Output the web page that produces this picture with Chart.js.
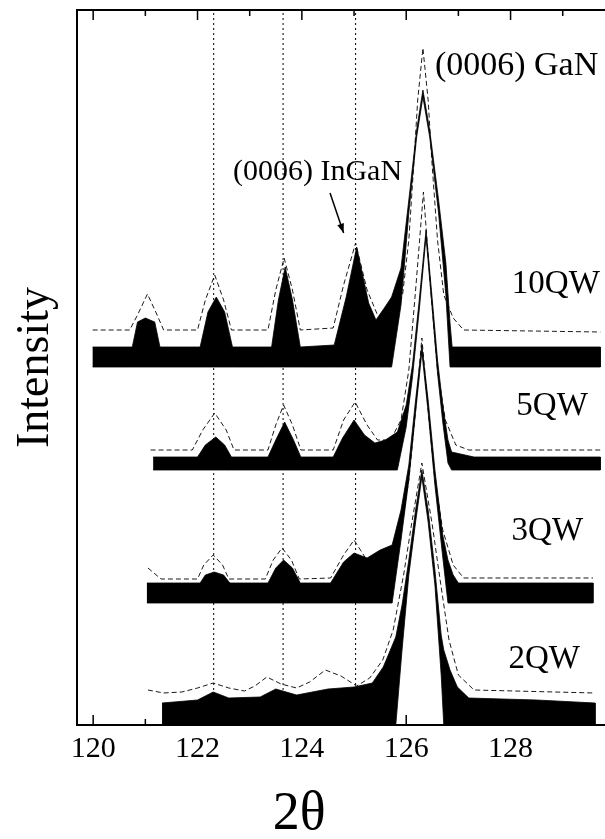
<!DOCTYPE html>
<html><head><meta charset="utf-8">
<script src="https://cdn.jsdelivr.net/npm/chart.js@4.4.0/dist/chart.umd.min.js"></script>
<style>html,body{margin:0;padding:0;background:#fff;}canvas{display:block;}</style>
</head><body>
<canvas id="c" width="605" height="839"></canvas>
<script>
// x-axis
const xTickLabels = [120, 122, 124, 126, 128];
const xMinorTicks = [120, 121, 122, 123, 124, 125, 126, 127, 128, 129];
// InGaN satellite reference positions (2theta)
const satelliteAngles = [122.31, 123.64, 125.03];

// 10QW measured (upper / lower envelope of noisy data, offset log intensity a.u.)
const qw10Angle = [119.99,120.75,120.85,121.0,121.18,121.28,122.05,122.2,122.36,122.52,122.67,123.42,123.55,123.68,123.82,123.97,124.62,124.85,125.05,125.28,125.42,125.58,125.72,125.9,126.05,126.2,126.32,126.45,126.62,126.76,126.84,126.88,129.72];
const qw10Upper = [378,378,403,407,403,378,378,413,428,413,378,378,425,458,425,378,380,428,478,422,405,417,428,457,525,595,635,595,525,462,402,378,378];
const qw10Lower = [358,358,358,358,358,358,358,358,358,358,358,358,358,358,358,358,358,358,358,358,358,358,358,420,512,588,628,588,512,430,358,358,358];
// 10QW simulation
const qw10SimAngle = [119.99,120.7,120.85,121.04,121.2,121.35,122.0,122.15,122.33,122.5,122.65,123.35,123.5,123.66,123.82,123.97,124.6,124.8,125.03,125.25,125.45,125.75,125.93,126.05,126.15,126.22,126.32,126.42,126.49,126.6,126.72,126.9,127.1,129.72];
const qw10Sim = [395,395,410,431,413,395,395,425,450,425,395,395,435,467,435,395,397,440,482,435,410,407,430,485,565,625,677,625,565,485,430,407,395,393];

// 5QW measured
const qw5Angle = [121.15,122.0,122.15,122.35,122.52,122.65,123.35,123.5,123.67,123.84,123.98,124.6,124.78,125.0,125.2,125.4,125.6,125.83,126.0,126.12,126.25,126.38,126.5,126.6,126.7,126.8,126.87,127.3,129.72];
const qw5Upper = [268,268,280,288,280,268,268,285,303,285,268,268,287,305,290,282,285,293,320,360,425,495,425,365,320,285,273,268,268];
const qw5Lower = [255,255,255,255,255,255,255,255,255,255,255,255,255,255,255,255,255,255,298,348,415,488,415,352,303,262,255,255,255];
// 5QW simulation
const qw5SimAngle = [121.1,121.9,122.1,122.33,122.55,122.7,123.35,123.5,123.65,123.82,123.98,124.6,124.8,125.02,125.25,125.45,125.7,125.9,126.05,126.18,126.33,126.47,126.6,126.75,126.95,127.2,129.72];
const qw5Sim = [275,275,295,312,295,275,275,300,320,300,275,275,305,323,300,285,285,305,355,435,533,435,355,305,280,275,275];

// 3QW measured
const qw3Angle = [121.03,122.05,122.15,122.32,122.5,122.62,123.35,123.5,123.65,123.82,123.97,124.55,124.8,125.0,125.25,125.5,125.73,125.9,126.05,126.18,126.3,126.42,126.55,126.7,126.8,126.9,127.0,129.58];
const qw3Upper = [142,142,150,153,150,142,142,157,165,157,142,142,163,172,167,175,180,215,260,325,380,325,255,190,165,150,142,142];
const qw3Lower = [122,122,122,122,122,122,122,122,122,122,122,122,122,122,122,122,122,185,245,313,373,313,240,168,122,122,122,122];
// 3QW simulation
const qw3SimAngle = [121.05,121.3,122.0,122.12,122.3,122.48,122.6,123.3,123.45,123.62,123.8,123.95,124.55,124.8,125.0,125.22,125.45,125.7,125.9,126.05,126.18,126.3,126.42,126.55,126.7,126.9,127.1,129.58];
const qw3Sim = [157,146,146,160,170,160,146,146,165,177,165,146,147,170,185,167,160,165,195,245,315,387,315,245,195,160,147,147];

// 2QW measured
const qw2Angle = [121.32,122.0,122.3,122.6,123.2,123.5,123.9,124.5,125.0,125.35,125.56,125.8,125.92,126.05,126.18,126.3,126.42,126.55,126.67,126.72,126.84,126.98,127.2,128.5,129.62];
const qw2Upper = [22,25,33,27,28,36,30,36,38,42,58,88,120,165,215,255,215,155,90,75,55,38,27,25,22];
const qw2Lower = [0,0,0,0,0,0,0,0,0,0,0,0,75,150,203,248,203,140,50,0,0,0,0,0,0];
// 2QW simulation
const qw2SimAngle = [121.05,121.35,121.7,122.0,122.3,122.6,122.9,123.1,123.33,123.6,123.9,124.15,124.45,124.75,125.05,125.3,125.55,125.75,125.95,126.1,126.3,126.5,126.65,126.82,127.0,127.3,129.62];
const qw2Sim = [35,32,33,37,42,37,34,39,48,41,37,43,55,49,39,47,65,95,150,200,262,200,145,85,50,35,32];

// text annotations
const sampleNames = ['10QW', '5QW', '3QW', '2QW'];
const sampleLabelAngle = [129.71, 129.48, 129.39, 129.33];
const sampleLabelLevel = [432, 310, 185, 57];
const peakNames = ['(0006) GaN', '(0006) InGaN'];
const peakLabelAngle = [126.55, 125.92];
const peakLabelLevel = [650, 545];
const arrowFrom = [124.54, 532];
const arrowTo = [124.80, 492];
const xTitle = '2θ';
const xTitleAngle = 123.95;

const FONT = 'Liberation Serif';

// closed outline of the noisy band: upper envelope forward, lower envelope back
function bandOutline(xs, up, lo) {
  const fwd = xs.map((x, i) => ({x: x, y: up[i]}));
  const back = xs.map((x, i) => ({x: x, y: lo[i]})).reverse();
  return fwd.concat(back);
}
function bandSet(name, xs, up, lo) {
  return {label: name, data: bandOutline(xs, up, lo), borderColor: '#000', borderWidth: 0.8, pointRadius: 0,
          fill: 'shape', backgroundColor: '#000', order: 1};
}
function simSet(name, xs, ys) {
  return {label: name + ' sim', data: xs.map((x, i) => ({x: x, y: ys[i]})), borderColor: '#000', borderWidth: 0.9,
          borderDash: [5, 3], pointRadius: 0, fill: false, order: 2};
}
const datasets = [
  bandSet('10QW', qw10Angle, qw10Upper, qw10Lower),
  bandSet('5QW', qw5Angle, qw5Upper, qw5Lower),
  bandSet('3QW', qw3Angle, qw3Upper, qw3Lower),
  bandSet('2QW', qw2Angle, qw2Upper, qw2Lower),
  simSet('10QW', qw10SimAngle, qw10Sim),
  simSet('5QW', qw5SimAngle, qw5Sim),
  simSet('3QW', qw3SimAngle, qw3Sim),
  simSet('2QW', qw2SimAngle, qw2Sim)
].concat(satelliteAngles.map(a => ({label: 'ref ' + a, data: [{x: a, y: 0}, {x: a, y: 715}], borderColor: '#000',
  borderWidth: 1, borderDash: [2, 3], pointRadius: 0, fill: false, order: 3})));

const inwardTicks = {
  id: 'inwardTicks',
  afterDraw(chart) {
    const {ctx, chartArea: a, scales: {x}} = chart;
    ctx.save();
    ctx.strokeStyle = '#000';
    ctx.lineWidth = 1.5;
    xMinorTicks.forEach(v => {
      const px = x.getPixelForValue(v);
      const L = (v % 2 === 0) ? 10 : 6;
      ctx.beginPath();
      ctx.moveTo(px, a.bottom); ctx.lineTo(px, a.bottom - L);
      ctx.moveTo(px, a.top); ctx.lineTo(px, a.top + L);
      ctx.stroke();
    });
    ctx.restore();
  }
};
const textLabels = {
  id: 'textLabels',
  afterDraw(chart) {
    const {ctx, scales: {x, y}} = chart;
    ctx.save();
    ctx.fillStyle = '#000';
    ctx.font = '33px "' + FONT + '"';
    ctx.textBaseline = 'alphabetic';
    ctx.textAlign = 'right';
    sampleNames.forEach((n, i) => ctx.fillText(n, x.getPixelForValue(sampleLabelAngle[i]), y.getPixelForValue(sampleLabelLevel[i])));
    ctx.font = '34px "' + FONT + '"';
    ctx.textAlign = 'left';
    ctx.fillText(peakNames[0], x.getPixelForValue(peakLabelAngle[0]), y.getPixelForValue(peakLabelLevel[0]));
    ctx.font = '30px "' + FONT + '"';
    ctx.textAlign = 'right';
    ctx.fillText(peakNames[1], x.getPixelForValue(peakLabelAngle[1]), y.getPixelForValue(peakLabelLevel[1]));
    const x0 = x.getPixelForValue(arrowFrom[0]), y0 = y.getPixelForValue(arrowFrom[1]);
    const x1 = x.getPixelForValue(arrowTo[0]), y1 = y.getPixelForValue(arrowTo[1]);
    ctx.strokeStyle = '#000'; ctx.lineWidth = 1.5;
    ctx.beginPath(); ctx.moveTo(x0, y0); ctx.lineTo(x1, y1); ctx.stroke();
    const ang = Math.atan2(y1 - y0, x1 - x0), h = 10;
    ctx.beginPath();
    ctx.moveTo(x1, y1);
    ctx.lineTo(x1 - h * Math.cos(ang - 0.35), y1 - h * Math.sin(ang - 0.35));
    ctx.lineTo(x1 - h * Math.cos(ang + 0.35), y1 - h * Math.sin(ang + 0.35));
    ctx.closePath(); ctx.fill();
    ctx.font = '54px "' + FONT + '"';
    ctx.textAlign = 'center';
    ctx.textBaseline = 'middle';
    ctx.fillText(xTitle, x.getPixelForValue(xTitleAngle), x.bottom - 24);
    ctx.restore();
  }
};

new Chart(document.getElementById('c'), {
  type: 'line',
  data: {datasets: datasets},
  plugins: [inwardTicks, textLabels],
  options: {
    responsive: false, animation: false, events: [],
    layout: {padding: 0},
    elements: {line: {tension: 0}},
    plugins: {legend: {display: false}, tooltip: {enabled: false}},
    scales: {
      x: {
        type: 'linear', position: 'bottom', min: 119.69, max: 129.81,
        afterFit: s => { s.height = 114; },
        afterBuildTicks: s => { s.ticks = xTickLabels.map(v => ({value: v})); },
        ticks: {font: {family: FONT, size: 30}, color: '#000', padding: 6, maxRotation: 0, autoSkip: false},
        grid: {drawOnChartArea: false, drawTicks: false},
        border: {display: true, color: '#000', width: 2}
      },
      xTop: {
        type: 'linear', position: 'top', min: 119.69, max: 129.81,
        afterFit: s => { s.height = 10; },
        ticks: {display: false},
        grid: {drawOnChartArea: false, drawTicks: false},
        border: {display: true, color: '#000', width: 2}
      },
      y: {
        type: 'linear', position: 'left', min: 0, max: 715,
        afterFit: s => { s.width = 77; },
        ticks: {display: false},
        grid: {drawOnChartArea: false, drawTicks: false},
        border: {display: true, color: '#000', width: 2},
        title: {display: true, text: 'Intensity', color: '#000', font: {family: FONT, size: 46, lineHeight: 1}, padding: {top: 13, bottom: 0}}
      }
    }
  }
});
</script>
</body></html>
